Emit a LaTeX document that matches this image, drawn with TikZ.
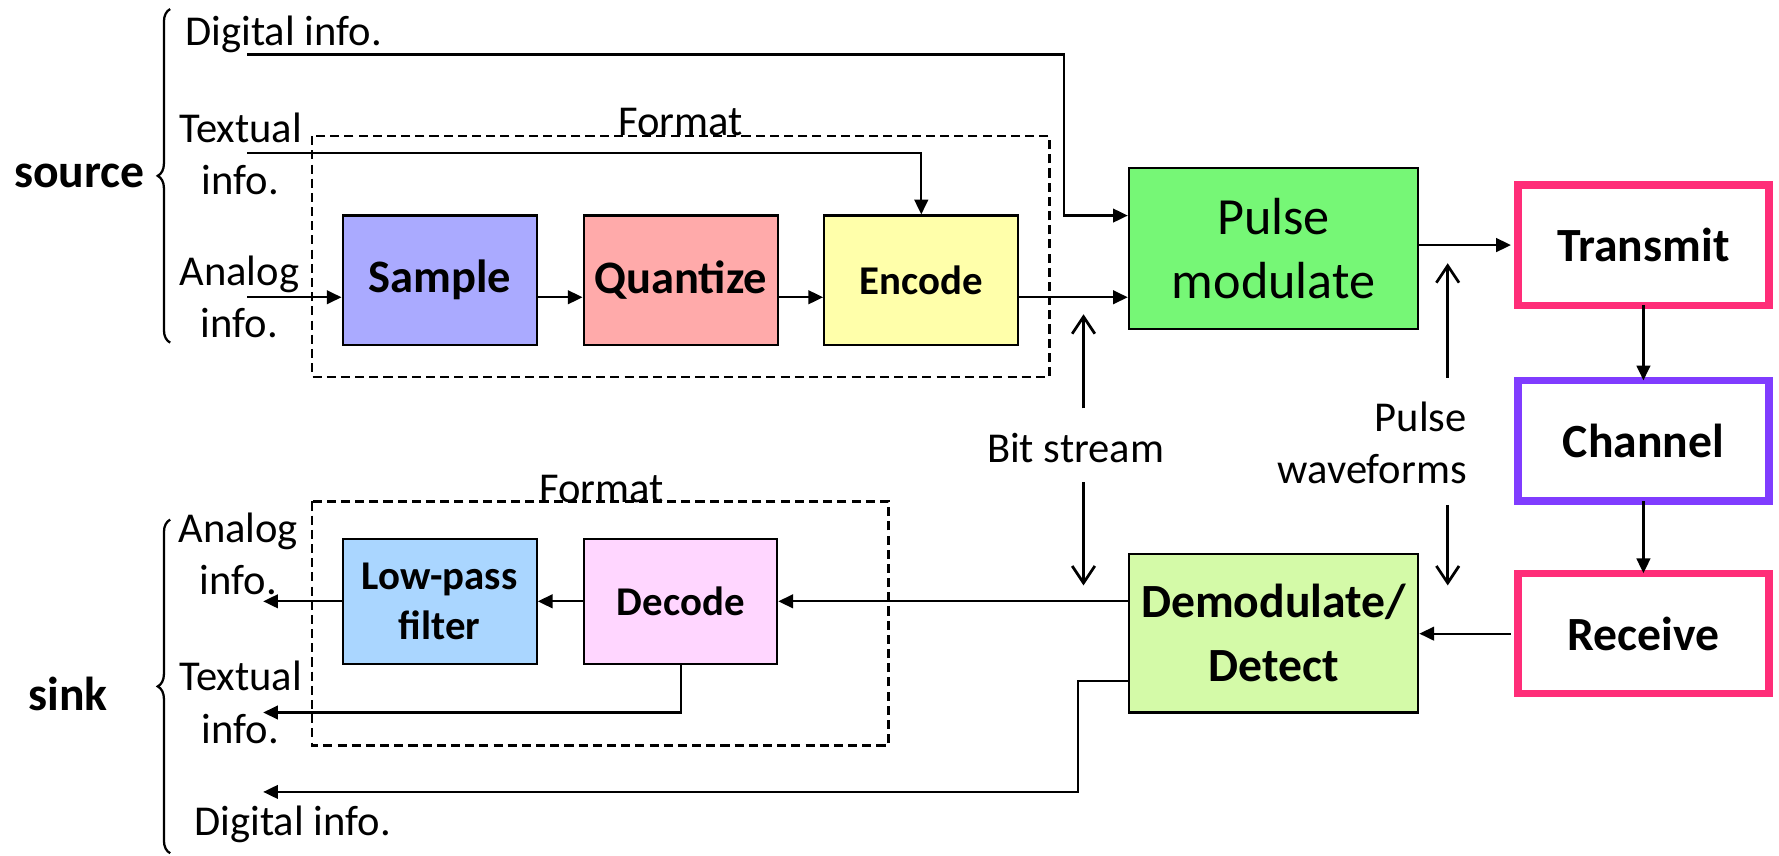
\documentclass[tikz,border=0pt]{standalone}
\usepackage{fontspec}
\setmainfont{Carlito}
\usetikzlibrary{arrows.meta,decorations.pathreplacing,calc}
\definecolor{sampleC}{RGB}{170,170,255}
\definecolor{quantC}{RGB}{255,170,170}
\definecolor{encC}{RGB}{255,255,170}
\definecolor{pulseC}{RGB}{118,247,118}
\definecolor{demodC}{RGB}{212,250,168}
\definecolor{lpfC}{RGB}{170,214,255}
\definecolor{decC}{RGB}{255,214,255}
\definecolor{pinkC}{RGB}{255,45,120}
\definecolor{purpC}{RGB}{128,60,255}
\begin{document}
\begin{tikzpicture}[x=1pt,y=-1pt,
  blk/.style={draw, line width=2pt, inner sep=0pt, align=center, minimum width=171pt},
  bigbold/.style={font=\fontsize{41}{48}\selectfont\bfseries},
  midbold/.style={font=\fontsize{36}{42}\selectfont\bfseries},
  chanbox/.style={draw, line width=6.5pt, fill=white, inner sep=0pt, align=center,
     minimum width=221pt, minimum height=106pt, font=\fontsize{42}{50}\selectfont\bfseries},
  lbl/.style={inner sep=0pt, align=center, font=\fontsize{37.5}{46}\selectfont},
  arr/.style={line width=2pt, -{Triangle[length=13pt,width=12pt]}},
  oarr/.style={line width=2.4pt, -{Straight Barb[length=15pt,width=20pt]}},
  fmt/.style={line width=2pt, dash pattern=on 8pt off 4.5pt},
  brc/.style={line width=2pt, decorate, decoration={brace, amplitude=11pt}}
]
\useasboundingbox[fill=white] (0,0) rectangle (1568,754);

% dashed format boxes
\draw[fmt] (275,120) rectangle (925,332);
\draw[fmt] (275,442) rectangle (783,657);
\node[lbl, anchor=base] (fmtTop) at (600,119) {Format};
\node[lbl, anchor=base] (fmtBot) at (530,443) {Format};

% source side
\node[blk, bigbold, fill=sampleC, minimum height=114pt] (sample) at (387.5,247) {Sample};
\node[blk, bigbold, fill=quantC, minimum height=114pt] (quant) at (600,247) {Quantize};
\node[blk, midbold, fill=encC, minimum height=114pt] (enc) at (812,247) {Encode};
\node[blk, fill=pulseC, minimum width=255pt, minimum height=142pt,
      font=\fontsize{46}{57}\selectfont] (pulse) at (1122.5,219) {Pulse\\modulate};

\node[chanbox, draw=pinkC] (trans) at (1448.5,216) {Transmit};
\node[chanbox, draw=purpC] (chan) at (1448.5,388.5) {Channel};
\node[chanbox, draw=pinkC] (recv) at (1448.5,558.5) {Receive};

\node[blk, fill=demodC, minimum width=255pt, minimum height=140pt,
      font=\fontsize{42}{57}\selectfont\bfseries] (demod) at (1122.5,558) {Demodulate/\\Detect};
\node[blk, midbold, fill=decC, minimum width=170pt, minimum height=110pt] (dec) at (600,530) {Decode};
\node[blk, fill=lpfC, minimum height=110pt, font=\fontsize{36}{44}\selectfont\bfseries] (lpf) at (387.5,530) {Low-pass\\filter};

% labels
\node[font=\fontsize{42}{50}\selectfont\bfseries, inner sep=0pt] (src) at (70,155) {source};
\node[font=\fontsize{42}{50}\selectfont\bfseries, inner sep=0pt] (sink) at (60,612) {sink};
\draw[brc] (150,302) -- (150,8);
\draw[brc] (150,752) -- (150,458);

\node[lbl] (digIn) at (250,30) {Digital info.};
\node[lbl] (txtIn) at (212,136) {Textual\\info.};
\node[lbl] (anaIn) at (211,262) {Analog\\info.};
\node[lbl] (anaOut) at (210,488) {Analog\\info.};
\node[lbl] (txtOut) at (212,619) {Textual\\info.};
\node[lbl] (digOut) at (258,727) {Digital info.};
\node[lbl] (bits) at (948,395) {Bit stream};
\node[lbl, align=right, anchor=east] (pwf) at (1293,390) {Pulse\\waveforms};

% coordinates
\coordinate (dA) at (218,48);
\coordinate (dT) at (938,190);
\coordinate (tA) at (218,135);
\coordinate (aA) at (218,262);
\coordinate (ay) at (0,262);
\coordinate (aO) at (232,530);
\coordinate (tO) at (232,628);
\coordinate (dmy) at (0,600);
\coordinate (dmT) at (950,698);
\coordinate (dO) at (232,698);
\coordinate (bs1) at (955,360);
\coordinate (bs2) at (955,277);
\coordinate (bs3) at (955,425);
\coordinate (bs4) at (955,516);
\coordinate (pw1) at (1276,333);
\coordinate (pw2) at (1276,232);
\coordinate (pw3) at (1276,445);
\coordinate (pw4) at (1276,516);

% connectors top
\draw[arr] (dA) -| (dT) -- (dT -| pulse.west);
\draw[arr] (tA) -| (enc.north);
\draw[arr] (aA) -- (sample.west |- ay);
\draw[arr] (sample.east |- ay) -- (quant.west |- ay);
\draw[arr] (quant.east |- ay) -- (enc.west |- ay);
\draw[arr] (enc.east |- ay) -- (pulse.west |- ay);
\draw[arr] (pulse.east |- trans.west) -- ([xshift=-3pt]trans.west);
\draw[arr] ([yshift=3pt]trans.south) -- ([yshift=-3pt]chan.north);
\draw[arr] ([yshift=3pt]chan.south) -- ([yshift=-3pt]recv.north);
\draw[arr] ([xshift=-3pt]recv.west) -- (recv.west -| demod.east);

% connectors bottom
\draw[arr] (demod.west |- dec.east) -- (dec.east);
\draw[arr] (dec.west) -- (lpf.east);
\draw[arr] (lpf.west) -- (aO);
\draw[arr] (dec.south) |- (tO);
\draw[arr] (demod.west |- dmy) -| (dmT) -- (dO);

% open arrows
\draw[oarr] (bs1) -- (bs2);
\draw[oarr] (bs3) -- (bs4);
\draw[oarr] (pw1) -- (pw2);
\draw[oarr] (pw3) -- (pw4);
\end{tikzpicture}
\end{document}
